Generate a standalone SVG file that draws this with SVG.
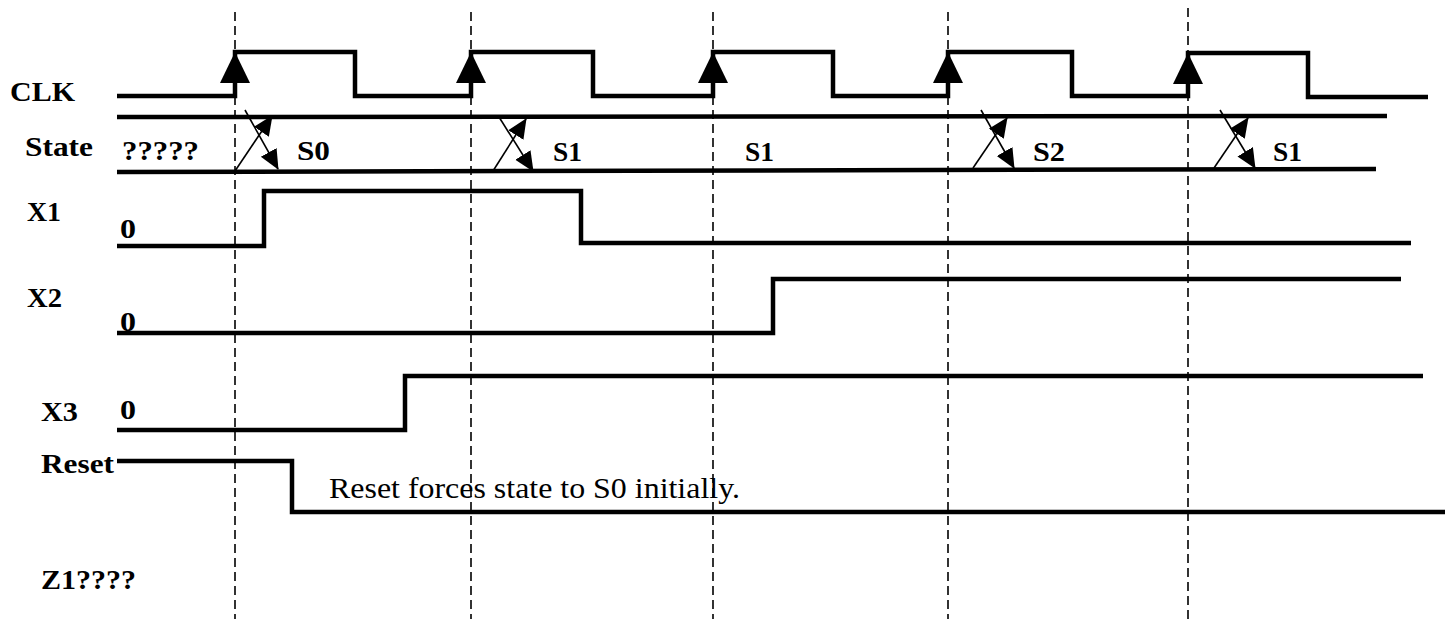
<svg xmlns="http://www.w3.org/2000/svg" width="1452" height="619" viewBox="0 0 1452 619">
<style>
.sig{fill:none;stroke:#000;stroke-width:4.5;stroke-linejoin:miter;stroke-linecap:butt}
.grid{fill:none;stroke:#000;stroke-width:1.6;stroke-dasharray:9,5}
.tr{fill:none;stroke:#000;stroke-width:1.6}
.lbl{font-family:"Times New Roman","Liberation Serif",Tinos,serif;font-weight:bold;font-size:28px;fill:#000}
.note{font-family:"Times New Roman","Liberation Serif",Tinos,serif;font-size:30px;fill:#000}
.edge{fill:#000;stroke:none}
</style>
<defs>
<marker id="ah" viewBox="0 0 20 20" markerWidth="20" markerHeight="20" refX="19" refY="10" orient="auto" markerUnits="userSpaceOnUse">
<path d="M0,1 L20,10 L0,19 z" fill="#000"/>
</marker>
</defs>
<rect width="1452" height="619" fill="#fff"/>
<g id="gridlines">
<line class="grid" x1="235" y1="12" x2="235" y2="619"/>
<line class="grid" x1="471" y1="12" x2="471" y2="619"/>
<line class="grid" x1="713" y1="12" x2="713" y2="619"/>
<line class="grid" x1="948" y1="12" x2="948" y2="619"/>
<line class="grid" x1="1188" y1="8" x2="1188" y2="619"/>
</g>
<g id="clk">
<text class="lbl" x="10" y="101" textLength="65" lengthAdjust="spacingAndGlyphs">CLK</text>
<path class="sig" d="M117,96 H235 V52 H355 V96 H471 V52 H593 V96 H713 V52 H833 V96 H948 V52 H1072 V96 H1188 V53 H1308 V97 H1428"/>
<path class="edge" d="M235,52 L250,83 L220,83 z"/>
<path class="edge" d="M471,52 L486,83 L456,83 z"/>
<path class="edge" d="M713,52 L728,83 L698,83 z"/>
<path class="edge" d="M948,52 L963,83 L933,83 z"/>
<path class="edge" d="M1188,53 L1203,84 L1173,84 z"/>
</g>
<g id="state">
<text class="lbl" x="25" y="156" textLength="68" lengthAdjust="spacingAndGlyphs">State</text>
<line class="sig" x1="117" y1="117" x2="1387" y2="116"/>
<line class="sig" x1="117" y1="172" x2="1376" y2="169"/>
<text class="lbl" x="122" y="160" textLength="77" lengthAdjust="spacingAndGlyphs">?????</text>
<text class="lbl" x="297" y="160" textLength="33" lengthAdjust="spacingAndGlyphs">S0</text>
<text class="lbl" x="553" y="161" textLength="29" lengthAdjust="spacingAndGlyphs">S1</text>
<text class="lbl" x="745" y="161" textLength="29" lengthAdjust="spacingAndGlyphs">S1</text>
<text class="lbl" x="1033" y="161" textLength="32" lengthAdjust="spacingAndGlyphs">S2</text>
<text class="lbl" x="1273" y="161" textLength="29" lengthAdjust="spacingAndGlyphs">S1</text>
</g>
<g id="transitions">
<line class="tr" x1="235" y1="171" x2="272" y2="116" marker-end="url(#ah)"/>
<line class="tr" x1="245" y1="110" x2="278" y2="169" marker-end="url(#ah)"/>
<line class="tr" x1="493" y1="171" x2="526" y2="119" marker-end="url(#ah)"/>
<line class="tr" x1="499" y1="117" x2="533" y2="171" marker-end="url(#ah)"/>
<line class="tr" x1="973" y1="168" x2="1007" y2="118" marker-end="url(#ah)"/>
<line class="tr" x1="981" y1="110" x2="1014" y2="168" marker-end="url(#ah)"/>
<line class="tr" x1="1214" y1="168" x2="1248" y2="118" marker-end="url(#ah)"/>
<line class="tr" x1="1220" y1="110" x2="1255" y2="168" marker-end="url(#ah)"/>
</g>
<g id="x1">
<text class="lbl" x="27" y="221" textLength="34" lengthAdjust="spacingAndGlyphs">X1</text>
<text class="lbl" x="120" y="238" textLength="16" lengthAdjust="spacingAndGlyphs">0</text>
<path class="sig" d="M117,246 H264 V191 H581 V243 H1411"/>
</g>
<g id="x2">
<text class="lbl" x="27" y="307" textLength="35" lengthAdjust="spacingAndGlyphs">X2</text>
<text class="lbl" x="120" y="331" textLength="16" lengthAdjust="spacingAndGlyphs">0</text>
<path class="sig" d="M117,333 H773 V279 H1401"/>
</g>
<g id="x3">
<text class="lbl" x="41" y="421" textLength="37" lengthAdjust="spacingAndGlyphs">X3</text>
<text class="lbl" x="120" y="419" textLength="16" lengthAdjust="spacingAndGlyphs">0</text>
<path class="sig" d="M117,430 H405 V376 H1423"/>
</g>
<g id="reset">
<text class="lbl" x="41" y="473" textLength="73" lengthAdjust="spacingAndGlyphs">Reset</text>
<path class="sig" d="M117,461 H292 V512 H1445"/>
<text class="note" x="329" y="498" textLength="411" lengthAdjust="spacingAndGlyphs">Reset forces state to S0 initially.</text>
</g>
<g id="z1">
<text class="lbl" x="41" y="589" textLength="95" lengthAdjust="spacingAndGlyphs">Z1????</text>
</g>
</svg>
